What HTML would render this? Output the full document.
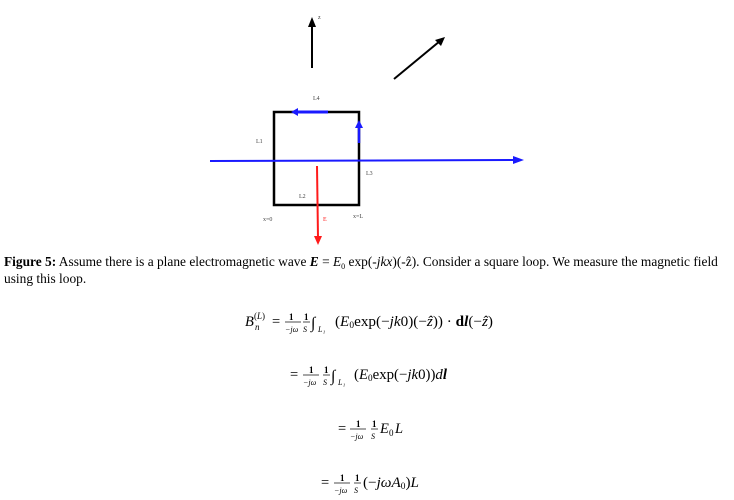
<!DOCTYPE html>
<html><head><style>
html,body{margin:0;padding:0;background:#fff;width:734px;height:500px;overflow:hidden}
svg{display:block}
.s{font-family:"Liberation Serif",serif}
</style></head><body>
<svg width="734" height="500" viewBox="0 0 734 500" xmlns="http://www.w3.org/2000/svg">
<!-- z arrow -->
<line x1="312" y1="68" x2="312" y2="24" stroke="#000" stroke-width="2"/>
<path d="M308,27 L312,17 L316,27z" fill="#000"/>
<text x="318" y="19" class="s" font-size="6" fill="#333">z</text>
<!-- diagonal -->
<line x1="394" y1="79" x2="440" y2="41" stroke="#000" stroke-width="2"/>
<path d="M435,40 L445,37 L441,46z" fill="#000"/>
<!-- square -->
<rect x="274" y="112" width="85" height="93" fill="none" stroke="#000" stroke-width="2.5"/>
<!-- blue horizontal -->
<line x1="210" y1="161" x2="516" y2="160" stroke="#1a1aff" stroke-width="2"/>
<path d="M513,156 L524,160 L513,164z" fill="#1a1aff"/>
<!-- L4 arrow -->
<line x1="328" y1="112" x2="296" y2="112" stroke="#1a1aff" stroke-width="3"/>
<path d="M298,108 L291,112 L298,116z" fill="#1a1aff"/>
<!-- up arrow -->
<line x1="359" y1="143" x2="359" y2="126" stroke="#1a1aff" stroke-width="2.5"/>
<path d="M355,128 L359,120 L363,128z" fill="#1a1aff"/>
<!-- red -->
<line x1="317" y1="166" x2="318" y2="238" stroke="#ff1a1a" stroke-width="2"/>
<path d="M314,236 L318,245 L322,236z" fill="#ff1a1a"/>
<g class="s" font-size="6" fill="#444">
<text x="313" y="100">L4</text>
<text x="256" y="143">L1</text>
<text x="366" y="175">L3</text>
<text x="299" y="198">L2</text>
<text x="263" y="221">x=0</text>
<text x="353" y="218">x=L</text>
<text x="323" y="221" fill="#ff1a1a">E</text>
</g>
<text x="4" y="266" class="s" font-size="13.4"><tspan font-weight="bold">Figure 5:</tspan> Assume there is a plane electromagnetic wave <tspan font-weight="bold" font-style="italic">E</tspan> = <tspan font-style="italic">E</tspan><tspan font-size="8" dy="3">0</tspan><tspan dy="-3"> exp(-</tspan><tspan font-style="italic">jkx</tspan>)(-ẑ). Consider a square loop. We measure the magnetic field</text>
<text x="4" y="283" class="s" font-size="13.4">using this loop.</text>
<g class="s" font-size="14.5">
<!-- line 1 -->
<text x="245" y="326" font-style="italic">B</text><text x="255" y="330" font-size="9" font-style="italic">n</text><text x="254" y="319" font-size="9">(<tspan font-style="italic">L</tspan>)</text>
<text x="272" y="326">=</text>
<text x="289" y="320" font-size="9" font-weight="bold">1</text><line x1="285" y1="322" x2="301" y2="322" stroke="#000" stroke-width="0.7"/><text x="285" y="332" font-size="8" font-style="italic">−jω</text>
<text x="304" y="320" font-size="9" font-weight="bold">1</text><line x1="303" y1="322" x2="310" y2="322" stroke="#000" stroke-width="0.7"/><text x="303" y="332" font-size="8" font-style="italic">S</text>
<text x="311" y="328" font-size="16">∫</text><text x="318" y="332" font-size="8" font-style="italic">L₁</text>
<text x="335" y="326" textLength="158" lengthAdjust="spacingAndGlyphs">(<tspan font-style="italic">E</tspan><tspan font-size="9" dy="2">0</tspan><tspan dy="-2">exp(−</tspan><tspan font-style="italic">jk</tspan>0)(−<tspan font-style="italic">ẑ</tspan>)) · <tspan font-weight="bold">d</tspan><tspan font-weight="bold" font-style="italic">l</tspan>(−<tspan font-style="italic">ẑ</tspan>)</text>
<!-- line 2 -->
<text x="290" y="379">=</text>
<text x="309" y="373" font-size="9" font-weight="bold">1</text><line x1="303" y1="375" x2="319" y2="375" stroke="#000" stroke-width="0.7"/><text x="303" y="385" font-size="8" font-style="italic">−jω</text>
<text x="324" y="373" font-size="9" font-weight="bold">1</text><line x1="323" y1="375" x2="330" y2="375" stroke="#000" stroke-width="0.7"/><text x="323" y="385" font-size="8" font-style="italic">S</text>
<text x="331" y="381" font-size="16">∫</text><text x="338" y="385" font-size="8" font-style="italic">L₁</text>
<text x="354" y="379" textLength="93" lengthAdjust="spacingAndGlyphs">(<tspan font-style="italic">E</tspan><tspan font-size="9" dy="2">0</tspan><tspan dy="-2">exp(−</tspan><tspan font-style="italic">jk</tspan>0))<tspan font-style="italic">d</tspan><tspan font-weight="bold" font-style="italic">l</tspan></text>
<!-- line 3 -->
<text x="338" y="433">=</text>
<text x="356" y="427" font-size="9" font-weight="bold">1</text><line x1="350" y1="429" x2="366" y2="429" stroke="#000" stroke-width="0.7"/><text x="350" y="439" font-size="8" font-style="italic">−jω</text>
<text x="372" y="427" font-size="9" font-weight="bold">1</text><line x1="371" y1="429" x2="378" y2="429" stroke="#000" stroke-width="0.7"/><text x="371" y="439" font-size="8" font-style="italic">S</text>
<text x="380" y="433" font-style="italic">E</text><text x="389" y="436" font-size="9">0</text><text x="395" y="433" font-style="italic">L</text>
<!-- line 4 -->
<text x="321" y="487">=</text>
<text x="340" y="481" font-size="9" font-weight="bold">1</text><line x1="334" y1="483" x2="350" y2="483" stroke="#000" stroke-width="0.7"/><text x="334" y="493" font-size="8" font-style="italic">−jω</text>
<text x="355" y="481" font-size="9" font-weight="bold">1</text><line x1="354" y1="483" x2="361" y2="483" stroke="#000" stroke-width="0.7"/><text x="354" y="493" font-size="8" font-style="italic">S</text>
<text x="363" y="487" textLength="56" lengthAdjust="spacingAndGlyphs">(−<tspan font-style="italic">jωA</tspan><tspan font-size="9" dy="2">0</tspan><tspan dy="-2">)</tspan><tspan font-style="italic">L</tspan></text>
</g>
</svg>
</body></html>
